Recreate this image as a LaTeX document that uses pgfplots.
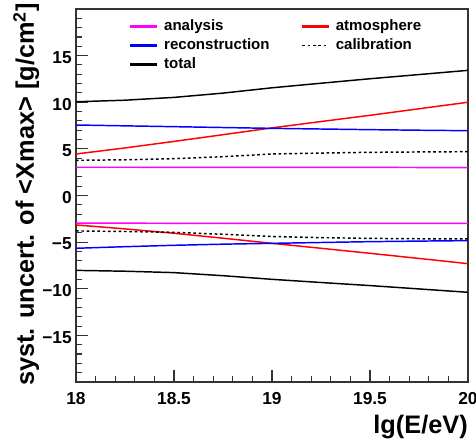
\documentclass[border=0pt]{standalone}
\usepackage{fontspec}
\setmainfont{Liberation Sans}
\usepackage{pgfplots}
\usepackage{pgfplotstable}
\pgfplotsset{compat=1.18}

\definecolor{cAna}{RGB}{255,0,255}
\definecolor{cAtm}{RGB}{255,0,0}
\definecolor{cRec}{RGB}{0,0,255}
\definecolor{cBlk}{RGB}{0,0,0}

% legend samples: thin bars for solid lines, a stroked line for dashed ones
\pgfplotsset{
  barsample/.style={legend image code/.code={\fill[##1] (0pt,-0.5pt) rectangle (19.5pt,0.5pt);}},
  dashsample/.style={legend image code/.code={\draw[##1] (0pt,0pt) -- (19.5pt,0pt);}},
}

% upper and lower systematic bands, lg(E/eV) vs. uncertainty in g/cm^2
\pgfplotstableread{
x     anaU  atmU  recU  calU  totU  anaL   atmL   recL   calL   totL
18.00 3.03  4.45  7.56  3.77  10.05 -2.97  -3.16  -5.66  -3.80  -8.03
18.25 3.03  5.10  7.47  3.83  10.22 -2.97  -3.58  -5.49  -3.86  -8.12
18.50 3.02  5.80  7.38  3.95  10.52 -2.98  -4.05  -5.34  -3.95  -8.27
18.75 3.02  6.52  7.29  4.16  10.98 -2.98  -4.58  -5.22  -4.16  -8.60
19.00 3.02  7.25  7.20  4.45  11.55 -2.98  -5.13  -5.13  -4.40  -8.99
19.25 3.01  7.93  7.13  4.55  12.04 -2.99  -5.66  -5.04  -4.52  -9.33
19.50 3.01  8.60  7.06  4.63  12.52 -2.99  -6.20  -4.95  -4.60  -9.66
19.75 3.00  9.30  7.00  4.67  12.97 -3.00  -6.75  -4.89  -4.64  -10.02
20.00 3.00  10.00 6.95  4.70  13.42 -3.00  -7.31  -4.84  -4.66  -10.38
}\syst

\begin{document}
\begin{tikzpicture}
\begin{axis}[
  scale only axis,
  width=294pt, height=279.75pt,
  xmin=18, xmax=20, ymin=-20, ymax=20,
  axis line style={black!80, line width=1pt},
  tick pos=left,
  tick align=inside,
  major tick length=9pt,
  minor tick length=4.5pt,
  every tick/.style={black!80, line width=0.8pt},
  xtick={18,18.5,19,19.5,20},
  xticklabels={18,18.5,19,19.5,20},
  minor xtick={18.1,18.2,18.3,18.4,18.6,18.7,18.8,18.9,19.1,19.2,19.3,19.4,19.6,19.7,19.8,19.9},
  ytick={-15,-10,-5,0,5,10,15},
  yticklabels={−15,−10,−5,0,5,10,15},
  minor ytick={-19,-18,-17,-16,-14,-13,-12,-11,-9,-8,-7,-6,-4,-3,-2,-1,1,2,3,4,6,7,8,9,11,12,13,14,16,17,18,19},
  tick label style={font=\fontsize{13}{13}\selectfont\bfseries},
  xticklabel style={anchor=north, inner sep=0pt, yshift=-7.5pt},
  yticklabel style={anchor=east, inner sep=0pt, xshift=-3pt, yshift=-1.5pt},
  xlabel={lg(E/eV)},
  ylabel={syst. uncert. of <Xmax> [g/cm\textsuperscript{2}]},
  label style={font=\fontsize{19}{19}\selectfont\bfseries},
  xlabel style={at={([yshift=-39pt]rel axis cs:1,0)}, anchor=base east, inner sep=0pt},
  ylabel style={at={([xshift=-31.5pt,yshift=4.5pt]rel axis cs:0,1)}, anchor=base east, inner sep=0pt},
  legend columns=2,
  legend cell align=left,
  legend style={
    draw=none, fill=none, inner sep=0pt, outer sep=0pt,
    at={(0.1378,0.973)}, anchor=north west,
    font=\fontsize{11.3}{11.3}\selectfont\bfseries,
    nodes={inner sep=0pt, text height=8.5pt, text depth=2.5pt},
    row sep=3.4pt,
    /tikz/column 1/.style={column sep=5pt},
    /tikz/column 2/.style={column sep=24pt},
    /tikz/column 3/.style={column sep=5pt},
  },
]
% upper edges, one legend entry each
\addplot[color=cAna, line width=1.1pt, barsample] table[x=x, y=anaU] {\syst};
\addlegendentry{analysis}
\addplot[color=cAtm, line width=1.1pt, barsample] table[x=x, y=atmU] {\syst};
\addlegendentry{atmosphere}
\addplot[color=cRec, line width=1.1pt, barsample] table[x=x, y=recU] {\syst};
\addlegendentry{reconstruction}
\addplot[color=cBlk, line width=1.1pt, dash pattern=on 2pt off 2pt, dashsample] table[x=x, y=calU] {\syst};
\addlegendentry{calibration}
\addplot[color=cBlk, line width=1.1pt, barsample] table[x=x, y=totU] {\syst};
\addlegendentry{total}
% lower edges
\addplot[color=cAna, line width=1.1pt, forget plot] table[x=x, y=anaL] {\syst};
\addplot[color=cAtm, line width=1.1pt, forget plot] table[x=x, y=atmL] {\syst};
\addplot[color=cRec, line width=1.1pt, forget plot] table[x=x, y=recL] {\syst};
\addplot[color=cBlk, line width=1.1pt, dash pattern=on 2pt off 2pt, forget plot] table[x=x, y=calL] {\syst};
\addplot[color=cBlk, line width=1.1pt, forget plot] table[x=x, y=totL] {\syst};
\end{axis}
\pgfresetboundingbox
\path[use as bounding box] (-57pt,-42.75pt) rectangle (300pt,286.5pt);
\end{tikzpicture}
\end{document}
